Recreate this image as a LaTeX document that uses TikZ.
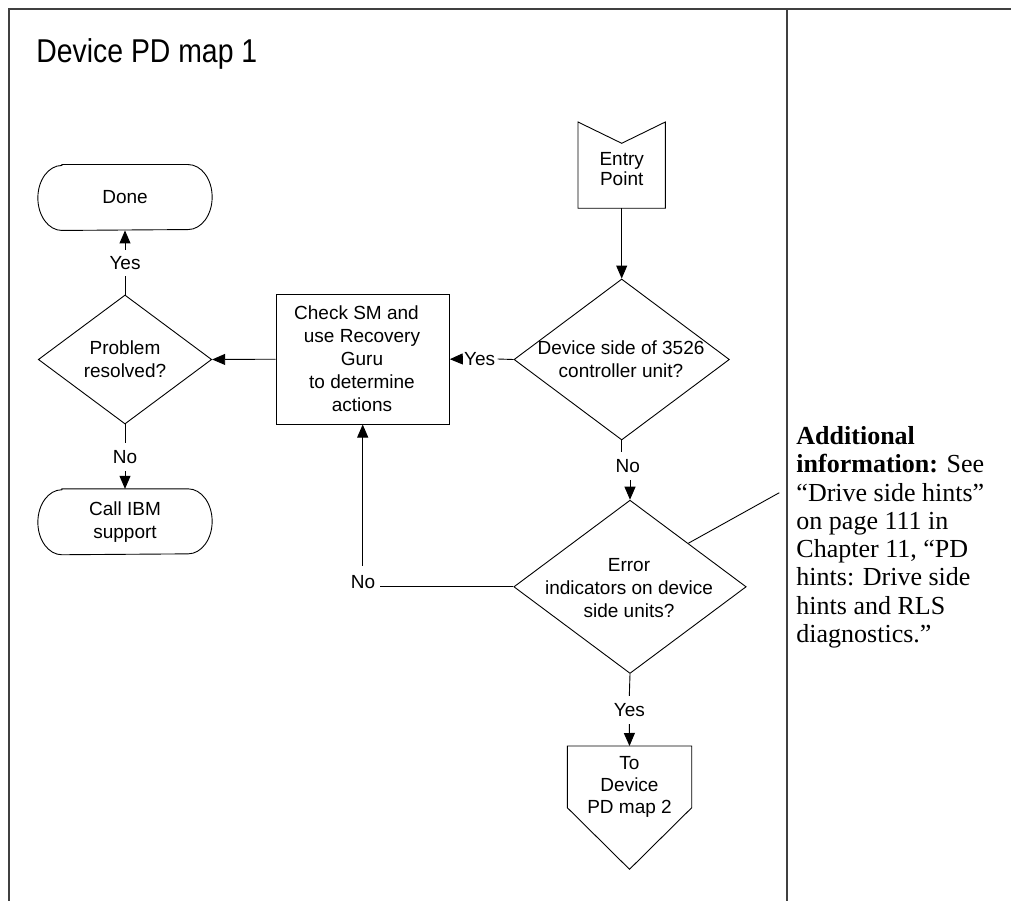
\documentclass[tikz,border=0pt]{standalone}
\usepackage{fontspec}
\setmainfont{Liberation Sans}
\newfontfamily\notefont{Liberation Serif}
\usetikzlibrary{arrows.meta,shapes.geometric}
\newcommand\stadpath[1]{\draw ([xshift=24pt]#1.north west) -- ([xshift=-24pt]#1.north east) arc[start angle=90,end angle=-90,x radius=24pt,y radius=32.5pt] -- ([xshift=24pt]#1.south west) arc[start angle=270,end angle=90,x radius=24pt,y radius=32.5pt] -- cycle;}
\begin{document}
\begin{tikzpicture}[x=1pt,y=-1pt,
  line width=0.9pt,
  arr/.style={-{Triangle[length=13pt,width=11pt]}},
  lbl/.style={inner xsep=4pt, inner ysep=7pt, font=\fontsize{19}{23}\selectfont},
  txt/.style={align=center, inner sep=0pt, font=\fontsize{19}{23}\selectfont},
  dia/.style={diamond, draw, inner sep=0pt},
  frame/.style={line width=1.3pt, draw=black!75}]
\useasboundingbox (0,0) rectangle (1011,901);
% frame
\draw[frame] (9,901) -- (9,9) -- (1011,9);
\draw[frame] (787,9) -- (787,901);
% title
\node[anchor=base west, inner sep=0pt, font=\fontsize{33}{38}\selectfont] (title) at (36,63) {\scalebox{0.86}[1]{Device PD map 1}};
% entry point
\draw (578,122) -- (621.7,143.3) -- (665.3,122) -- (665.3,208.3) -- (578,208.3) -- cycle;
\node[txt, font=\fontsize{19}{20}\selectfont] (entry) at (621.7,169.3) {Entry\\Point};
\coordinate (entrybot) at (621.7,208.3);
% decision 1
\node[dia, minimum width=215.4pt, minimum height=161pt] (d1) at (621.7,359.5) {};
\node[txt] (d1t) at (621,359.7) {Device side of 3526\\controller unit?};
% action box
\node[draw, minimum width=173.3pt, minimum height=129.7pt, inner sep=0pt] (box) at (362.7,359.2) {};
\node[txt] (boxt) at (362,358.7) {Check SM and\hspace*{11pt}\\use Recovery\\Guru\\to determine\\actions};
% decision 3
\node[dia, minimum width=173.4pt, minimum height=129pt] (d3) at (125,359.5) {};
\node[txt] (d3t) at (125,359.5) {Problem\\resolved?};
% done / call
\node[txt, minimum width=173.4pt, minimum height=65pt] (done) at (125,197.5) {Done};
\stadpath{done}
\node[txt, minimum width=173.4pt, minimum height=65pt] (call) at (125,521.8) {Call IBM\\support};
\stadpath{call}
% decision 2
\node[dia, minimum width=232.4pt, minimum height=173.3pt] (d2) at (630,586.8) {};
\node[txt] (d2t) at (629,588) {Error\\indicators on device\\side units?};
% off-page
\draw (567.3,746) -- (691.7,746) -- (691.7,807.7) -- (629.5,869.3) -- (567.3,807.7) -- cycle;
\coordinate (offtop) at (629.5,746);
\node[txt, font=\fontsize{19}{22}\selectfont] (off) at (629.5,787) {To\\Device\\PD map 2};
% labels
\node[lbl, inner ysep=0pt] (yes1) at (479.7,359) {Yes};
\node[lbl, inner ysep=6pt] (yes2) at (125,263) {Yes};
\node[lbl] (no2) at (125,457.3) {No};
\node[lbl] (no1) at (627.7,465.7) {No};
\node[lbl] (yes3) at (629.3,710) {Yes};
\node[lbl, inner ysep=9pt] (no3) at (363,582) {No};
% connectors
\draw[arr] (entrybot) -- (d1.north);
\draw (d1.west) -- ([xshift=-2pt]yes1.east);
\draw[arr] (yes1.west) -- (box.east);
\draw[arr] (box.west) -- (d3.east);
\draw (d3.north) -- (yes2.south);
\draw[arr] (yes2.north) -- (done.south);
\draw (d3.south) -- (no2.north);
\draw[arr] (no2.south) -- (call.north);
\draw (d1.south) -- (d1.south |- no1.north);
\draw[arr] (no1.south -| d2.north) -- (d2.north);
\draw (d2.south) -- (yes3.north);
\draw[arr] (yes3.south) -- (offtop);
\draw (d2.west) -- (no3.east |- d2.west);
\draw[arr] (no3.north -| box.south) -- (box.south);
% leader to note
\coordinate (ldB) at (779.3,492.7);
\draw (d2.north east) -- (ldB);
% note
\node[anchor=north west, inner sep=0pt, align=left, font=\notefont\fontsize{26}{28.3}\selectfont] (info) at (796,426) {\textbf{Additional}\\\textbf{information:} See\\“Drive side hints”\\on page 111 in\\Chapter 11, “PD\\hints: Drive side\\hints and RLS\\diagnostics.”};
\end{tikzpicture}
\end{document}
